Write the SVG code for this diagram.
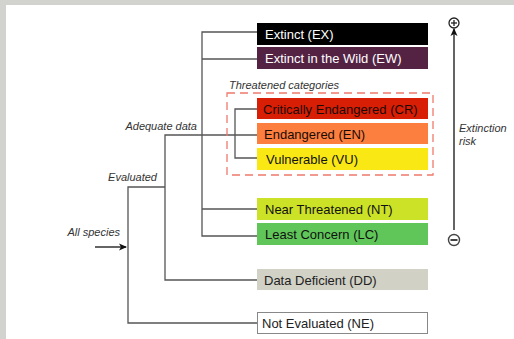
<svg xmlns="http://www.w3.org/2000/svg" width="514" height="339" viewBox="0 0 514 339">
<style>
.box text{font-family:"Liberation Sans",Arial,sans-serif;font-size:13px}
.lbl{font-family:"Liberation Sans",Arial,sans-serif;font-size:11px;font-style:italic;fill:#333}
.ln{stroke:#555;stroke-width:1.3;fill:none}
</style>
<defs>
<marker id="ah" markerWidth="8" markerHeight="8" refX="7" refY="4" orient="auto" markerUnits="userSpaceOnUse">
<path d="M0,0.5 L8,4 L0,7.5 L2,4 Z" fill="#111"/>
</marker>
</defs>
<rect x="0" y="0" width="514" height="339" fill="#d2d2ce"/>
<rect x="6" y="5" width="508" height="334" fill="#fff"/>
<g id="connectors">
<polyline class="ln" points="257,32 202,32 202,236 257,236"/>
<line class="ln" x1="202" y1="59" x2="257" y2="59"/>
<line class="ln" x1="202" y1="209" x2="257" y2="209"/>
<polyline class="ln" points="257,109 235,109 235,158 257,158"/>
<polyline class="ln" points="257,135 165,135 165,280 257,280"/>
<polyline class="ln" points="165,187 128,187 128,323 257,323"/>
<line x1="95" y1="247" x2="126" y2="247" stroke="#111" stroke-width="1.3" marker-end="url(#ah)"/>
<line x1="454" y1="230" x2="454" y2="29" stroke="#111" stroke-width="1.3" marker-end="url(#ah)"/>
</g>
<g id="threatened">
<rect x="227" y="93" width="206" height="82" fill="none" stroke="#f07a6c" stroke-width="1.3" stroke-dasharray="8,5"/>
<text class="lbl" x="229" y="89">Threatened categories</text>
</g>
<g id="EX" class="box"><rect x="257" y="23" width="171" height="22" fill="#000"/><text x="265" y="38.5" fill="#fff">Extinct (EX)</text></g>
<g id="EW" class="box"><rect x="257" y="47" width="171" height="22" fill="#542344"/><text x="265" y="62.5" fill="#fff">Extinct in the Wild (EW)</text></g>
<g id="CR" class="box"><rect x="257" y="98" width="171" height="21" fill="#d81e05"/><text x="263" y="113.5" fill="#1a0a05">Critically Endangered (CR)</text></g>
<g id="EN" class="box"><rect x="257" y="123" width="171" height="21" fill="#fc7f3f"/><text x="264" y="138.5" fill="#1a0a05">Endangered (EN)</text></g>
<g id="VU" class="box"><rect x="257" y="148" width="171" height="22" fill="#f9e814"/><text x="266" y="163.5" fill="#111">Vulnerable (VU)</text></g>
<g id="NT" class="box"><rect x="257" y="198" width="171" height="22" fill="#cce226"/><text x="265" y="213.5" fill="#111">Near Threatened (NT)</text></g>
<g id="LC" class="box"><rect x="257" y="223" width="171" height="22" fill="#60c659"/><text x="265" y="238.5" fill="#111">Least Concern (LC)</text></g>
<g id="DD" class="box"><rect x="257" y="269" width="171" height="21" fill="#d1d1c6"/><text x="264" y="284.5" fill="#222">Data Deficient (DD)</text></g>
<g id="NE" class="box"><rect x="257.5" y="312.5" width="170" height="21" fill="#fff" stroke="#888" stroke-width="1"/><text x="262" y="328" fill="#222">Not Evaluated (NE)</text></g>
<g id="labels">
<text class="lbl" x="197" y="130" text-anchor="end">Adequate data</text>
<text class="lbl" x="157" y="181" text-anchor="end">Evaluated</text>
<text class="lbl" x="120" y="236" text-anchor="end">All species</text>
<text class="lbl" x="459" y="132">Extinction</text>
<text class="lbl" x="459" y="145">risk</text>
</g>
<g id="plus" stroke="#222" stroke-width="1.3" fill="#fff">
<circle cx="454" cy="23" r="5"/>
<line x1="451" y1="23" x2="457" y2="23"/><line x1="454" y1="20" x2="454" y2="26"/>
</g>
<g id="minus" stroke="#444" stroke-width="1.4" fill="#fff">
<circle cx="454" cy="240" r="5.5"/>
<line x1="450.5" y1="240" x2="457.5" y2="240" stroke-width="2"/>
</g>
</svg>
